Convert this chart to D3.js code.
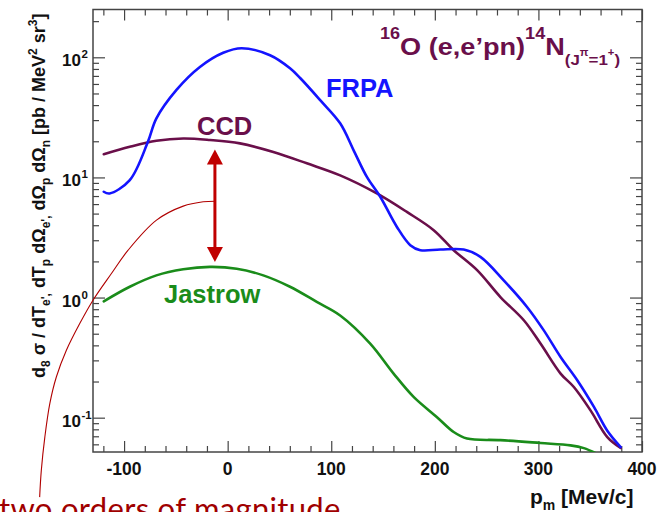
<!DOCTYPE html>
<html>
<head>
<meta charset="utf-8">
<script src="https://cdn.jsdelivr.net/npm/d3@7"></script>
<style>
  html, body { margin: 0; padding: 0; background: #fff; }
  svg { display: block; }
  text { font-family: "Liberation Sans", Arial, sans-serif; font-weight: bold; }
  text.note { font-family: Lato, "Open Sans", sans-serif; font-weight: normal; }
</style>
</head>
<body>
<div id="chart"></div>
<script>
// ---- data ----
const xMajorTicks = [-100, 0, 100, 200, 300, 400];
const xTickLabels = ["-100", "0", "100", "200", "300", "400"];
const yDecades = [0.1, 1, 10, 100];
const yExponents = ["-1", "0", "1", "2"];

const frpaX = [-119.6, -114, -94.5, -77, -68.8, -49.4, -26.8, -4.3, 13.5, 40.9, 60.2, 70.2, 89.3, 108.6, 121.5, 134.4, 147.3, 163.4, 176.3, 186, 205.3, 227.9, 244, 266.5, 289, 305.2, 321.4, 337.5, 353.6, 366.5, 379.4];
const frpaY = [7.6, 7.36, 9.5, 19.8, 31, 53.5, 83, 109, 119, 104, 81, 66.9, 44, 28.2, 16.9, 10.1, 6.9, 3.87, 2.73, 2.48, 2.51, 2.51, 2.18, 1.39, 0.835, 0.533, 0.32, 0.205, 0.123, 0.078, 0.057];

const ccdX = [-119.6, -94.5, -68.8, -42.9, -17.1, 11.9, 44.1, 76.4, 108.6, 144, 173, 198.9, 218.2, 240.8, 263.3, 285.9, 302, 321.4, 334.2, 350.3, 366.5, 379.4];
const ccdY = [15.6, 18, 20.2, 21.1, 20.5, 19.2, 16.3, 13.1, 10.4, 7.36, 5.16, 3.64, 2.48, 1.69, 1.01, 0.647, 0.414, 0.233, 0.18, 0.115, 0.069, 0.056];

const jasX = [-119.6, -94.5, -68.8, -42.9, -17.1, 8.7, 34.4, 60.2, 86, 108.6, 137.6, 160.2, 179.5, 202.1, 218.2, 231.1, 263.3, 302, 331, 343.9, 355.2];
const jasY = [0.93, 1.23, 1.53, 1.72, 1.80, 1.74, 1.53, 1.23, 0.92, 0.71, 0.414, 0.233, 0.149, 0.101, 0.076, 0.067, 0.065, 0.0615, 0.0588, 0.0558, 0.0507];

// thin red annotation curve and the double arrow (in data units)
const annX = [-181.5, -179.9, -176.5, -171.7, -165.4, -155.7, -142.8, -130, -112.2, -96.1, -68.7, -42.9, -23.6, -12.3];
const annY = [0.0218, 0.0364, 0.0689, 0.131, 0.218, 0.364, 0.607, 0.95, 1.585, 2.48, 4.41, 5.77, 6.27, 6.34];
const arrowX = [-12.3];
const arrowY = [17.1, 1.98];

const seriesNames = ["FRPA", "CCD", "Jastrow"];
const seriesColors = ["#1414ff", "#6a0f4a", "#1a8c1a"];

// ---- layout ----
const W = 660, H = 512;
const m = { left: 93, right: 18, top: 9.5, bottom: 60 };
const svg = d3.select("#chart").append("svg").attr("width", W).attr("height", H);

const x = d3.scaleLinear().domain([-130, 400]).range([m.left, W - m.right]);
const y = d3.scaleLog().domain([0.0518, 250]).range([H - m.bottom, m.top]);

const x0 = x.range()[0], x1 = x.range()[1];
const y0 = y.range()[0], y1 = y.range()[1];

svg.append("defs").append("clipPath").attr("id", "clip")
  .append("rect").attr("x", x0).attr("y", y1).attr("width", x1 - x0).attr("height", y0 - y1);

// ---- axes (ticks inside the frame on all four sides) ----
const axisColor = "#444";
const xMinor = d3.range(-120, 401, 20).filter(v => v % 100 !== 0);
const yMinor = [];
[0.01, 0.1, 1, 10, 100].forEach(d => { for (let k = 2; k <= 9; k++) { const v = d * k; if (v >= 0.0518 && v <= 250) yMinor.push(v); } });

function styleAxis(g) {
  g.select(".domain").remove();
  g.selectAll(".tick line").attr("stroke", axisColor).attr("stroke-width", 1.2);
}

// bottom
svg.append("g").attr("transform", `translate(0,${y0})`)
  .call(d3.axisTop(x).tickValues(xMajorTicks).tickSize(11).tickFormat("")).call(styleAxis);
svg.append("g").attr("transform", `translate(0,${y0})`)
  .call(d3.axisTop(x).tickValues(xMinor).tickSize(6).tickFormat("")).call(styleAxis);
// top
svg.append("g").attr("transform", `translate(0,${y1})`)
  .call(d3.axisBottom(x).tickValues(xMajorTicks).tickSize(11).tickFormat("")).call(styleAxis);
svg.append("g").attr("transform", `translate(0,${y1})`)
  .call(d3.axisBottom(x).tickValues(xMinor).tickSize(6).tickFormat("")).call(styleAxis);
// left
svg.append("g").attr("transform", `translate(${x0},0)`)
  .call(d3.axisRight(y).tickValues(yDecades).tickSize(12).tickFormat("")).call(styleAxis);
svg.append("g").attr("transform", `translate(${x0},0)`)
  .call(d3.axisRight(y).tickValues(yMinor).tickSize(6).tickFormat("")).call(styleAxis);
// right
svg.append("g").attr("transform", `translate(${x1},0)`)
  .call(d3.axisLeft(y).tickValues(yDecades).tickSize(12).tickFormat("")).call(styleAxis);
svg.append("g").attr("transform", `translate(${x1},0)`)
  .call(d3.axisLeft(y).tickValues(yMinor).tickSize(6).tickFormat("")).call(styleAxis);

// frame
svg.append("rect").attr("x", x0).attr("y", y1).attr("width", x1 - x0).attr("height", y0 - y1)
  .attr("fill", "none").attr("stroke", axisColor).attr("stroke-width", 1.5);

// x tick labels
svg.append("g").selectAll("text").data(xMajorTicks).join("text")
  .attr("x", d => x(d)).attr("y", y0 + 23)
  .attr("text-anchor", "middle").attr("font-size", 17.5).attr("fill", "#111")
  .text((d, i) => xTickLabels[i]);

// y tick labels: 10^n
const yl = svg.append("g").selectAll("g").data(yDecades).join("g");
yl.append("text").attr("x", 81).attr("y", d => y(d) + 9)
  .attr("text-anchor", "end").attr("font-size", 17).attr("fill", "#111").text("10");
yl.append("text").attr("x", 81.5).attr("y", d => y(d) + 1)
  .attr("text-anchor", "start").attr("font-size", 11.5).attr("fill", "#111")
  .text((d, i) => yExponents[i]);

// ---- curves ----
const line = d3.line().x(d => x(d[0])).y(d => y(d[1])).curve(d3.curveCatmullRom.alpha(0.5));
const series = [d3.zip(frpaX, frpaY), d3.zip(ccdX, ccdY), d3.zip(jasX, jasY)];
const plot = svg.append("g").attr("clip-path", "url(#clip)");
[2, 1, 0].forEach(i => {
  plot.append("path").datum(series[i]).attr("d", line)
    .attr("fill", "none").attr("stroke", seriesColors[i]).attr("stroke-width", 2.6)
    .attr("stroke-linejoin", "round").attr("stroke-linecap", "round");
});

// thin red annotation curve (not clipped)
svg.append("path").datum(d3.zip(annX, annY)).attr("d", line)
  .attr("fill", "none").attr("stroke", "#b00000").attr("stroke-width", 1.1);

// double arrow
const ax = x(arrowX[0]), ayTop = y(arrowY[0]), ayBot = y(arrowY[1]);
const headL = 15, headW = 8;
svg.append("line").attr("x1", ax).attr("x2", ax).attr("y1", ayTop + headL - 1).attr("y2", ayBot - headL + 1)
  .attr("stroke", "#c00000").attr("stroke-width", 3);
svg.append("path").attr("d", `M${ax},${ayTop} L${ax - headW},${ayTop + headL} L${ax + headW},${ayTop + headL} Z`)
  .attr("fill", "#c00000");
svg.append("path").attr("d", `M${ax},${ayBot} L${ax - headW},${ayBot - headL} L${ax + headW},${ayBot - headL} Z`)
  .attr("fill", "#c00000");

// series labels
svg.append("text").attr("x", 326).attr("y", 97.3).attr("font-size", 25.5).attr("fill", seriesColors[0]).text(seriesNames[0]);
svg.append("text").attr("x", 197).attr("y", 135).attr("font-size", 25.5).attr("fill", seriesColors[1]).text(seriesNames[1]);
svg.append("text").attr("x", 164).attr("y", 303.3).attr("font-size", 25.5).attr("fill", seriesColors[2]).text(seriesNames[2]);

// title: 16O (e,e'pn)14N(Jπ=1+)
const tc = "#6a0f4a";
const title = svg.append("text").attr("transform", "translate(380,55) scale(1.13,1)")
  .attr("fill", tc).attr("font-size", 24);
title.append("tspan").attr("font-size", 16).attr("dy", -16).text("16");
title.append("tspan").attr("dy", 16).text("O (e,e’pn)");
title.append("tspan").attr("font-size", 16).attr("dy", -16).text("14");
title.append("tspan").attr("dy", 16).text("N");
title.append("tspan").attr("font-size", 15).attr("dy", 10).text("(J");
title.append("tspan").attr("font-size", 10).attr("dy", -9).text("π");
title.append("tspan").attr("font-size", 15).attr("dy", 9).text("=1");
title.append("tspan").attr("font-size", 10).attr("dy", -9).text("+");
title.append("tspan").attr("font-size", 15).attr("dy", 9).text(")");

// x axis title: p_m [Mev/c]
const xt = svg.append("text").attr("x", 530).attr("y", 503.5).attr("font-size", 21).attr("fill", "#111");
xt.append("tspan").text("p");
xt.append("tspan").attr("font-size", 14).attr("dy", 6).text("m");
xt.append("tspan").attr("dy", -6).text(" [Mev/c]");

// y axis title (rotated)
const ytg = svg.append("g").attr("transform", "translate(45,378) rotate(-90)");
const yt = ytg.append("text").attr("x", 0).attr("y", 0).attr("font-size", 18).attr("fill", "#111");
const sub = (t) => yt.append("tspan").attr("font-size", 12).attr("dy", 5).text(t);
const base = (t) => yt.append("tspan").attr("font-size", 18).attr("dy", -5).text(t);
yt.append("tspan").text("d");
sub("8");
base(" σ / dT");
sub("e',");
base(" dT");
sub("p");
base(" dΩ");
sub("e',");
base(" dΩ");
sub("p");
base(" dΩ");
sub("n");
base(" [pb / MeV");
yt.append("tspan").attr("font-size", 12).attr("dy", -8).text("2");
yt.append("tspan").attr("font-size", 18).attr("dy", 8).text(" sr");
yt.append("tspan").attr("font-size", 12).attr("dy", -8).text("3");
yt.append("tspan").attr("font-size", 18).attr("dy", 8).text("]");

// bottom annotation text (partly cut off by the page edge, as in the reference)
svg.append("text").attr("class", "note").attr("x", -1).attr("y", 520)
  .attr("font-size", 31).attr("letter-spacing", 0.3).attr("fill", "#a00000").text("two orders of magnitude");
</script>
</body>
</html>
